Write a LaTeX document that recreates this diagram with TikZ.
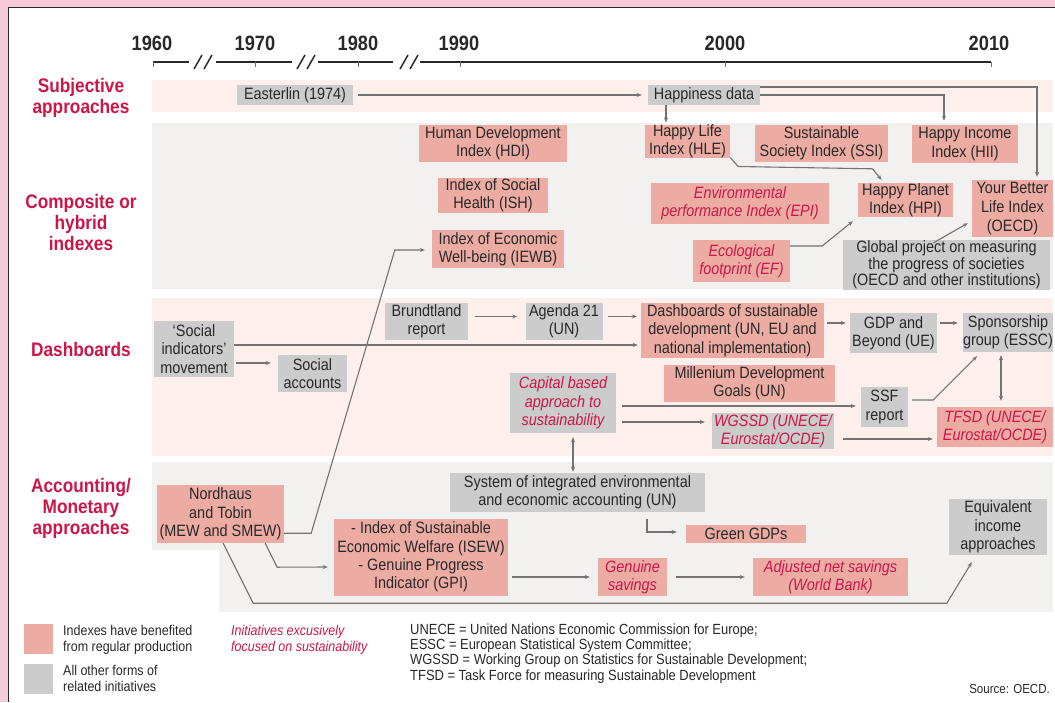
\documentclass[tikz,border=0pt]{standalone}
\usepackage{fontspec}
\setmainfont[FakeStretch=0.88]{Liberation Sans}
\usetikzlibrary{arrows.meta}
\usetikzlibrary{calc,positioning}

\definecolor{cadre}{RGB}{246,202,216}
\definecolor{bandrose}{RGB}{253,240,236}
\definecolor{bandgris}{RGB}{242,241,240}
\definecolor{boxrose}{RGB}{236,172,163}
\definecolor{boxgris}{RGB}{204,204,204}
\definecolor{rouge}{RGB}{204,22,72}
\definecolor{texte}{RGB}{40,40,40}
\definecolor{trait}{RGB}{115,115,115}

\begin{document}
\begin{tikzpicture}[x=1pt,y=-1pt,
every node/.style={inner sep=0pt,align=center,text=texte,font=\fontsize{16.4}{18.3}\selectfont},
taille/.style 2 args={minimum width=#1,minimum height=#2},
rose/.style={fill=boxrose},gris/.style={fill=boxgris},
durable/.style={text=rouge,font=\fontsize{16.4}{18.3}\selectfont\itshape},
titre/.style={text=rouge,font=\fontsize{19.6}{21}\selectfont\bfseries},
annee/.style={font=\fontsize{20.7}{22}\selectfont\bfseries},
legende/.style={align=left,anchor=west,font=\fontsize{14.2}{16}\selectfont}]

\tikzset{liaison/.style={-{Stealth[length=5pt,width=4pt]},trait,line width=1.1pt},
         bidir/.style={liaison,{Stealth[length=5pt,width=4pt]}-{Stealth[length=5pt,width=4pt]}}}

\useasboundingbox (0,0) rectangle (1055,702);
\fill[cadre] (0,0) rectangle (1055,702);
\fill[white] (8.5,7.5) rectangle (1055,702);
\draw[texte,line width=1pt] (8.5,702) -- (8.5,7.5) -- (1055,7.5);

\fill[bandrose] (152,80) rectangle (1053,112);
\fill[bandgris] (152,123) rectangle (1053,289);
\fill[bandrose] (152,298) rectangle (1053,456);
\fill[bandgris] (152,462) -- (1053,462) -- (1053,612) -- (219,612) -- (219,550) -- (152,550) -- cycle;

\foreach \a/\b in {153/189,216/292,318/393,420/991} \draw[texte,line width=2pt] (\a,62) -- (\b,62);
\foreach \b in {194,297,400} {\draw[texte,line width=1.5pt] (\b,69) -- (\b+8,55);
                              \draw[texte,line width=1.5pt] (\b+10,69) -- (\b+18,55);}
\foreach \t in {153,255,358,460,725,991} \draw[trait,line width=0.8pt] (\t,62) -- (\t,67);
\foreach \an/\x in {1960/152,1970/255,1980/358,1990/459,2000/725,2010/989}
  \node[annee] (a\an) at (\x,43) {\an};

\node[titre] (subj) at (81,97.5) {Subjective\\approaches};
\node[titre] (comp) at (81,222.5) {Composite or\\hybrid\\indexes};
\node[titre] (dash) at (81,349) {Dashboards};
\node[titre] (acct) at (81,508) {Accounting/\\Monetary\\approaches};

\node[gris] (easterlin) [taille={116}{20}] at (295,95) {Easterlin (1974)};
\node[gris] (happiness) [taille={112}{20}] at (704,95) {Happiness data};

\node[rose] (hdi) [taille={148}{37}] at (493,143.5) {Human Development\\Index (HDI)};
\node[rose] (ish) [taille={110}{35}] at (493,195.5) {Index of Social\\Health (ISH)};
\node[rose] (iewb) [taille={132}{38}] at (498,249) {Index of Economic\\Well-being (IEWB)};
\node[rose] (hle) [taille={85}{33}] at (687.5,141.5) {Happy Life\\Index (HLE)};
\node[rose] (ssi) [taille={133}{37}] at (821.5,143.5) {Sustainable\\Society Index (SSI)};
\node[rose] (hii) [taille={106}{38}] at (965,144) {Happy Income\\Index (HII)};
\node[rose,durable] (epi) [taille={178}{41}] at (740,203.5) {Environmental\\performance Index (EPI)};
\node[rose] (hpi) [taille={95}{34}] at (905.5,200) {Happy Planet\\Index (HPI)};
\node[rose] (ybli) [taille={81}{57},font=\fontsize{16.4}{19}\selectfont] at (1012.5,208.5) {Your Better\\Life Index\\(OECD)};
\node[rose,durable] (ef) [taille={97}{42}] at (741.5,261) {Ecological\\footprint (EF)};
\node[gris] (global) [taille={207}{50},font=\fontsize{16.4}{14.7}\selectfont] at (946.5,265) {Global project on measuring\\the progress of societies\\(OECD and other institutions)};

\node[gris] (sim) [taille={80}{56}] at (194,349) {`Social\\indicators'\\movement};
\node[gris] (socacc) [taille={69}{37}] at (312.5,373.5) {Social\\accounts};
\node[gris] (brundtland) [taille={83}{37}] at (426.5,321.5) {Brundtland\\report};
\node[gris] (agenda) [taille={77}{37}] at (564,321.5) {Agenda 21\\(UN)};
\node[rose] (dashsd) [taille={183}{55}] at (732.5,330.5) {Dashboards of sustainable\\development (UN, EU and\\national implementation)};
\node[gris] (gdpb) [taille={87}{40}] at (893.5,333) {GDP and\\Beyond (UE)};
\node[gris] (sponsor) [taille={90}{39}] at (1008,332.5) {Sponsorship\\group (ESSC)};
\node[rose] (mdg) [taille={171}{37}] at (749.5,383.5) {Millenium Development\\Goals (UN)};
\node[gris,durable] (capital) [taille={106}{60}] at (563,403) {Capital based\\approach to\\sustainability};
\node[gris,durable] (wgssd) [taille={122}{36}] at (773,431) {WGSSD (UNECE/\\Eurostat/OCDE)};
\node[gris] (ssf) [taille={47}{40}] at (884.5,407) {SSF\\report};
\node[rose,durable] (tfsd) [taille={116}{40}] at (995,427) {TFSD (UNECE/\\Eurostat/OCDE)};

\node[rose] (nordhaus) [taille={127}{58}] at (220.5,514) {Nordhaus\\and Tobin\\(MEW and SMEW)};
\node[gris] (seea) [taille={255}{39}] at (577.5,492.5) {System of integrated environmental\\and economic accounting (UN)};
\node[rose] (greengdp) [taille={120}{18}] at (746,534) {Green GDPs};
\node[rose] (isew) [taille={174}{77}] at (421,557) {- Index of Sustainable\\Economic Welfare (ISEW)\\- Genuine Progress\\Indicator (GPI)};
\node[rose,durable] (genuine) [taille={69}{38}] at (632.5,577) {Genuine\\savings};
\node[rose,durable] (adjusted) [taille={155}{38}] at (830.5,577) {Adjusted net savings\\(World Bank)};
\node[gris] (equiv) [taille={98}{56}] at (998,527) {Equivalent\\income\\approaches};

\draw[liaison,shorten <=5pt,shorten >=6pt] (easterlin) -- (happiness);
\draw[liaison,shorten >=2pt] ([xshift=-38pt]happiness.south) -- ([xshift=-38pt]happiness.south |- hle.north);
\draw[liaison,shorten >=4pt] (happiness.east) -| ([xshift=-21pt]hii.north);
\draw[liaison,shorten >=3pt] ([yshift=8pt]happiness.east) -| ([xshift=24.5pt]ybli.north);
\draw[liaison] ([yshift=1pt]hle.south east) -- ++(8,9) -- ([shift={(-33pt,14pt)}]hpi.north) -- ([shift={(-24pt,3pt)}]hpi.north);
\draw[liaison] ([yshift=15pt]ef.east) -- ++(32,0) -- ([shift={(-5pt,-4pt)}]hpi.south west);
\draw[liaison] ([xshift=-13pt,yshift=-3pt]global.north) -- ([shift={(-4pt,14pt)}]ybli.south west);
\draw[liaison] ([yshift=10pt]nordhaus.south east) -- ++(27,0) -- ([shift={(-37pt,-1pt)}]iewb.west) -- ([shift={(-7pt,-1pt)}]iewb.west);

\draw[liaison,shorten <=2pt,shorten >=7pt] ([yshift=-14pt]sim.east) -- ([yshift=-14pt]sim.east -| socacc.west);
\draw[liaison,shorten >=3pt] ([yshift=4pt]sim.east) -- ([yshift=4pt]sim.east -| dashsd.west);
\draw[liaison,shorten <=7pt,shorten >=8pt] ([yshift=5pt]brundtland.east) -- ([yshift=5pt]brundtland.east -| agenda.west);
\draw[liaison,shorten <=5pt,shorten >=4pt] ([yshift=5pt]agenda.east) -- ([yshift=5pt]agenda.east -| dashsd.west);
\draw[liaison,shorten <=3pt,shorten >=4pt] ([yshift=7.5pt]dashsd.east) -- ([yshift=7.5pt]dashsd.east -| gdpb.west);
\draw[liaison,shorten <=3pt,shorten >=5pt] ([yshift=10pt]gdpb.east) -- ([yshift=10pt]gdpb.east -| sponsor.west);
\draw[liaison,shorten <=6pt,shorten >=5pt] ([yshift=-3pt]capital.east) -- ([yshift=-3pt]capital.east -| ssf.west);
\draw[liaison,shorten <=6pt,shorten >=7pt] ([yshift=-19pt]capital.east) -- ([yshift=-19pt]capital.east -| wgssd.west);
\draw[liaison,shorten <=9pt,shorten >=4pt] ([yshift=-8pt]wgssd.east) -- ([yshift=-8pt]wgssd.east -| tfsd.west);
\draw[liaison,shorten <=4pt] ([yshift=7pt]ssf.east) -- ++(25,0) -- ([shift={(-31pt,-4pt)}]sponsor.south);
\draw[bidir,shorten <=3pt,shorten >=6pt] ([xshift=-7pt]sponsor.south) -- ([xshift=-7pt]sponsor.south |- tfsd.north);
\draw[bidir,shorten <=4pt,shorten >=1pt] ([xshift=10pt]capital.south) -- ([xshift=10pt]capital.south |- seea.north);

\draw[liaison] ([xshift=69.5pt,yshift=-7pt]seea.south) |- ([xshift=-9pt,yshift=2pt]greengdp.west);
\draw[liaison] ([xshift=-19pt]nordhaus.south east) -- ++(12,24) -- ([shift={(-6pt,-10pt)}]isew.west);
\draw[liaison,shorten <=4pt,shorten >=8pt] ([yshift=-20pt]isew.east) -- ([yshift=-20pt]isew.east -| genuine.west);
\draw[liaison,shorten <=9pt,shorten >=8pt] (genuine) -- (adjusted);
\draw[liaison] ([xshift=-61pt]nordhaus.south east) -- ++(30,60) -- ([shift={(-2pt,-48pt)}]equiv.south west) -- ([shift={(23pt,-7pt)}]equiv.south west);

\node[rose,taille={29}{30}] (lrose) at (38.5,639) {};
\node[gris,taille={29}{30}] (lgris) at (38.5,679) {};
\node[legende] (lt1) at (63,640) {Indexes have benefited\\from regular production};
\node[legende] (lt2) at (63,678) {All other forms of\\related initiatives};
\node[legende,text=rouge,font=\fontsize{14.2}{16}\selectfont\itshape] (lt3) at (231,640) {Initiatives excusively\\focused on sustainability};
\node[legende,font=\fontsize{14.7}{15.3}\selectfont] (abbr) at (410,653.5) {UNECE = United Nations Economic Commission for Europe;\\ESSC = European Statistical System Committee;\\WGSSD = Working Group on Statistics for Sustainable Development;\\TFSD = Task Force for measuring Sustainable Development};
\node[anchor=east,font=\fontsize{13.1}{14}\selectfont] (source) at (1050,689) {Source: OECD.};
\end{tikzpicture}
\end{document}
